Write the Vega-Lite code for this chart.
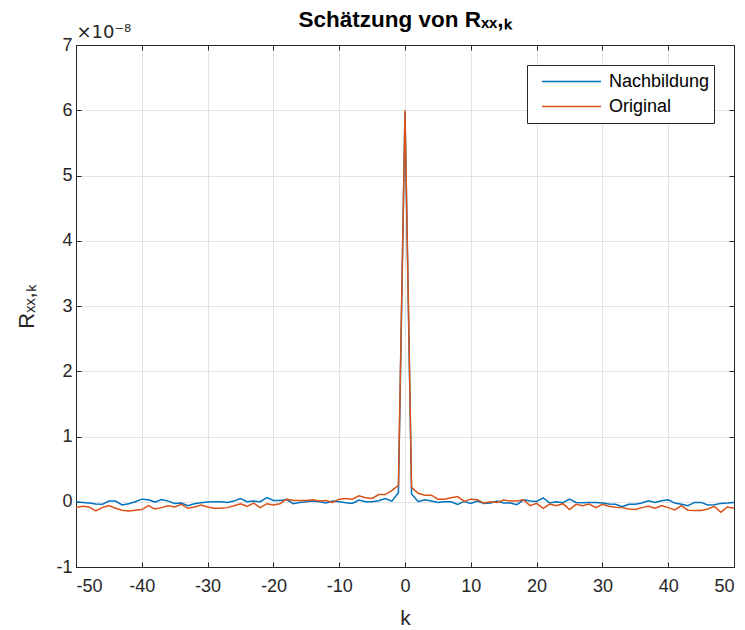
{
  "$schema": "https://vega.github.io/schema/vega-lite/v6.json",
  "autosize": {"type": "none"},
  "width": 658,
  "height": 522,
  "padding": {"left": 76, "top": 45, "right": 11, "bottom": 63},
  "background": "white",
  "config": {
    "font": "Liberation Sans",
    "view": {"stroke": null},
    "axis": {
      "domainColor": "#262626",
      "tickColor": "#262626",
      "labelColor": "#262626",
      "titleColor": "#262626",
      "gridColor": "#e3e3e3",
      "labelFontSize": 18,
      "titleFontSize": 21,
      "titleFontWeight": "normal",
      "tickSize": -5,
      "labelPadding": 8,
      "labelExpr": "toString(datum.value)"
    }
  },
  "title": {
    "text": "Schätzung von Rₓₓ,ₖ",
    "fontSize": 22.5,
    "fontWeight": "bold",
    "color": "#000000",
    "anchor": "middle",
    "offset": -8
  },
  "data": {
    "values": [
      {"k": -50, "Nachbildung": 0, "Original": -0.09},
      {"k": -49, "Nachbildung": -0.01, "Original": -0.07},
      {"k": -48, "Nachbildung": -0.02, "Original": -0.08},
      {"k": -47, "Nachbildung": -0.035, "Original": -0.14},
      {"k": -46, "Nachbildung": -0.04, "Original": -0.09},
      {"k": -45, "Nachbildung": 0.01, "Original": -0.06},
      {"k": -44, "Nachbildung": 0.01, "Original": -0.1},
      {"k": -43, "Nachbildung": -0.05, "Original": -0.13},
      {"k": -42, "Nachbildung": -0.03, "Original": -0.14},
      {"k": -41, "Nachbildung": 0, "Original": -0.13},
      {"k": -40, "Nachbildung": 0.04, "Original": -0.12},
      {"k": -39, "Nachbildung": 0.03, "Original": -0.06},
      {"k": -38, "Nachbildung": -0.005, "Original": -0.11},
      {"k": -37, "Nachbildung": 0.035, "Original": -0.09},
      {"k": -36, "Nachbildung": 0.01, "Original": -0.06},
      {"k": -35, "Nachbildung": -0.025, "Original": -0.08},
      {"k": -34, "Nachbildung": -0.02, "Original": -0.04},
      {"k": -33, "Nachbildung": -0.06, "Original": -0.1},
      {"k": -32, "Nachbildung": -0.03, "Original": -0.08},
      {"k": -31, "Nachbildung": -0.015, "Original": -0.05},
      {"k": -30, "Nachbildung": -0.005, "Original": -0.08},
      {"k": -29, "Nachbildung": 0, "Original": -0.1},
      {"k": -28, "Nachbildung": 0, "Original": -0.1},
      {"k": -27, "Nachbildung": -0.01, "Original": -0.09},
      {"k": -26, "Nachbildung": 0.01, "Original": -0.06},
      {"k": -25, "Nachbildung": 0.05, "Original": -0.03},
      {"k": -24, "Nachbildung": 0, "Original": -0.07},
      {"k": -23, "Nachbildung": 0.01, "Original": -0.02},
      {"k": -22, "Nachbildung": 0, "Original": -0.09},
      {"k": -21, "Nachbildung": 0.065, "Original": -0.03},
      {"k": -20, "Nachbildung": 0.02, "Original": -0.05},
      {"k": -19, "Nachbildung": 0.02, "Original": -0.03},
      {"k": -18, "Nachbildung": 0.035, "Original": 0.04},
      {"k": -17, "Nachbildung": -0.03, "Original": 0.02},
      {"k": -16, "Nachbildung": -0.01, "Original": 0.02},
      {"k": -15, "Nachbildung": 0, "Original": 0.02},
      {"k": -14, "Nachbildung": 0.01, "Original": 0.03},
      {"k": -13, "Nachbildung": 0, "Original": 0.01},
      {"k": -12, "Nachbildung": -0.02, "Original": 0.02},
      {"k": -11, "Nachbildung": 0.01, "Original": -0.01},
      {"k": -10, "Nachbildung": 0, "Original": 0.04},
      {"k": -9, "Nachbildung": -0.015, "Original": 0.05},
      {"k": -8, "Nachbildung": -0.025, "Original": 0.04},
      {"k": -7, "Nachbildung": 0.025, "Original": 0.09},
      {"k": -6, "Nachbildung": 0, "Original": 0.06},
      {"k": -5, "Nachbildung": 0, "Original": 0.05},
      {"k": -4, "Nachbildung": 0.015, "Original": 0.11},
      {"k": -3, "Nachbildung": 0.05, "Original": 0.11},
      {"k": -2, "Nachbildung": 0.01, "Original": 0.17},
      {"k": -1, "Nachbildung": 0.14, "Original": 0.25},
      {"k": 0, "Nachbildung": 5.97, "Original": 6.0},
      {"k": 1, "Nachbildung": 0.12, "Original": 0.22},
      {"k": 2, "Nachbildung": 0, "Original": 0.13},
      {"k": 3, "Nachbildung": 0.03, "Original": 0.1},
      {"k": 4, "Nachbildung": 0.01, "Original": 0.1},
      {"k": 5, "Nachbildung": -0.01, "Original": 0.04},
      {"k": 6, "Nachbildung": 0, "Original": 0.04},
      {"k": 7, "Nachbildung": 0, "Original": 0.06},
      {"k": 8, "Nachbildung": -0.04, "Original": 0.08},
      {"k": 9, "Nachbildung": 0.005, "Original": 0.005},
      {"k": 10, "Nachbildung": -0.025, "Original": 0.04},
      {"k": 11, "Nachbildung": 0.01, "Original": 0.03},
      {"k": 12, "Nachbildung": -0.025, "Original": -0.02},
      {"k": 13, "Nachbildung": -0.02, "Original": 0},
      {"k": 14, "Nachbildung": 0.01, "Original": -0.01},
      {"k": 15, "Nachbildung": -0.02, "Original": 0.025},
      {"k": 16, "Nachbildung": -0.02, "Original": 0.01},
      {"k": 17, "Nachbildung": -0.045, "Original": 0.01},
      {"k": 18, "Nachbildung": 0.03, "Original": 0.03},
      {"k": 19, "Nachbildung": 0.01, "Original": -0.06},
      {"k": 20, "Nachbildung": 0.005, "Original": -0.025},
      {"k": 21, "Nachbildung": 0.06, "Original": -0.1},
      {"k": 22, "Nachbildung": -0.02, "Original": -0.035},
      {"k": 23, "Nachbildung": 0, "Original": -0.06},
      {"k": 24, "Nachbildung": -0.015, "Original": -0.03},
      {"k": 25, "Nachbildung": 0.04, "Original": -0.12},
      {"k": 26, "Nachbildung": -0.01, "Original": -0.04},
      {"k": 27, "Nachbildung": -0.015, "Original": -0.06},
      {"k": 28, "Nachbildung": -0.01, "Original": -0.035},
      {"k": 29, "Nachbildung": -0.01, "Original": -0.09},
      {"k": 30, "Nachbildung": -0.02, "Original": -0.04},
      {"k": 31, "Nachbildung": -0.035, "Original": -0.07},
      {"k": 32, "Nachbildung": -0.04, "Original": -0.085},
      {"k": 33, "Nachbildung": -0.075, "Original": -0.09},
      {"k": 34, "Nachbildung": -0.04, "Original": -0.11},
      {"k": 35, "Nachbildung": -0.04, "Original": -0.12},
      {"k": 36, "Nachbildung": -0.02, "Original": -0.09},
      {"k": 37, "Nachbildung": 0.015, "Original": -0.07},
      {"k": 38, "Nachbildung": -0.01, "Original": -0.1},
      {"k": 39, "Nachbildung": 0.015, "Original": -0.06},
      {"k": 40, "Nachbildung": 0.03, "Original": -0.09},
      {"k": 41, "Nachbildung": -0.02, "Original": -0.125},
      {"k": 42, "Nachbildung": -0.04, "Original": -0.06},
      {"k": 43, "Nachbildung": -0.06, "Original": -0.13},
      {"k": 44, "Nachbildung": -0.01, "Original": -0.135},
      {"k": 45, "Nachbildung": -0.01, "Original": -0.135},
      {"k": 46, "Nachbildung": -0.05, "Original": -0.11},
      {"k": 47, "Nachbildung": -0.045, "Original": -0.07},
      {"k": 48, "Nachbildung": -0.025, "Original": -0.16},
      {"k": 49, "Nachbildung": -0.02, "Original": -0.08},
      {"k": 50, "Nachbildung": -0.01, "Original": -0.1}
    ]
  },
  "transform": [{"fold": ["Nachbildung", "Original"], "as": ["Reihe", "R"]}],
  "layer": [
    {
      "mark": {"type": "line", "strokeWidth": 1.5, "clip": true},
      "encoding": {
        "x": {
          "field": "k", "type": "quantitative",
          "scale": {"domain": [-50, 50], "nice": false, "zero": false},
          "axis": {"orient": "bottom", "title": "k", "values": [-50, -40, -30, -20, -10, 0, 10, 20, 30, 40, 50], "grid": true, "labelPadding": 15, "titlePadding": 12}
        },
        "y": {
          "field": "R", "type": "quantitative",
          "scale": {"domain": [-1, 7], "nice": false, "zero": false},
          "axis": {"orient": "left", "title": "Rₓₓ,ₖ", "titleFontSize": 22, "values": [-1, 0, 1, 2, 3, 4, 5, 6, 7], "grid": true, "labelPadding": 9, "titlePadding": 17}
        },
        "color": {
          "field": "Reihe", "type": "nominal",
          "scale": {"domain": ["Nachbildung", "Original"], "range": ["#0072BD", "#D95319"]},
          "legend": {
            "title": null,
            "orient": "none",
            "legendX": 451,
            "legendY": 20,
            "symbolType": "stroke",
            "symbolSize": 3481,
            "symbolStrokeWidth": 1.5,
            "symbolOffset": 10,
            "clipHeight": 25,
            "labelFontSize": 18,
            "labelColor": "#000000",
            "labelOffset": 7,
            "strokeColor": "#262626",
            "fillColor": "white",
            "padding": 4,
            "rowPadding": 0
          }
        }
      }
    },
    {
      "mark": {"type": "point", "opacity": 0},
      "encoding": {
        "x": {
          "field": "k", "type": "quantitative",
          "axis": {"orient": "top", "labels": false, "grid": false, "values": [-50, -40, -30, -20, -10, 0, 10, 20, 30, 40, 50], "title": "×10⁻⁸", "titleAnchor": "start", "titleAlign": "left", "titleFontSize": 18, "titlePadding": 3, "titleFont": "DejaVu Sans"}
        },
        "y": {
          "field": "R", "type": "quantitative",
          "axis": {"orient": "right", "labels": false, "grid": false, "title": null, "values": [-1, 0, 1, 2, 3, 4, 5, 6, 7]}
        }
      }
    }
  ],
  "resolve": {"axis": {"x": "independent", "y": "independent"}}
}
